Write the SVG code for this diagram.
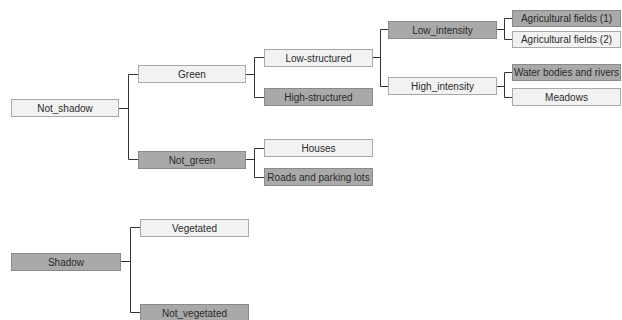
<svg xmlns="http://www.w3.org/2000/svg" width="622" height="320" viewBox="0 0 622 320">
<style>
.l rect{fill:#f2f2f2;stroke:#a8a8a8;stroke-width:1}
.d rect{fill:#a9a9a9;stroke:#8a8a8a;stroke-width:1}
text{font-family:"Liberation Sans",Arial,sans-serif;font-size:10px;fill:#2a2a2a;text-anchor:middle}
#connectors path{fill:none;stroke:#333;stroke-width:1}
</style>
<rect width="622" height="320" fill="#fff"/>
<g id="connectors">
<path d="M118.5,108.5H128.5M128.5,74.5V159.5M128.5,74.5H138M128.5,159.5H138"/>
<path d="M245,74.5H254.5M254.5,57.5V97.5M254.5,57.5H264M254.5,97.5H264"/>
<path d="M245,159.5H254.5M254.5,148.5V177.5M254.5,148.5H264M254.5,177.5H264"/>
<path d="M372,57.5H380.5M380.5,29.5V86.5M380.5,29.5H388M380.5,86.5H388"/>
<path d="M496,29.5H504.5M504.5,18.5V39.5M504.5,18.5H512M504.5,39.5H512"/>
<path d="M496,86.5H504.5M504.5,72.5V97.5M504.5,72.5H512M504.5,97.5H512"/>
<path d="M120.5,261.5H130.5M130.5,227.5V312.5M130.5,227.5H140M130.5,312.5H140"/>
</g>
<g id="not_shadow" class="l"><rect x="11.5" y="99.5" width="107" height="17"/><text x="65" y="111.5">Not_shadow</text></g>
<g id="green" class="l"><rect x="138.5" y="65.5" width="107" height="17"/><text x="192" y="77.5">Green</text></g>
<g id="not_green" class="d"><rect x="138.5" y="151.5" width="107" height="17"/><text x="192" y="163.5">Not_green</text></g>
<g id="low_structured" class="l"><rect x="264.5" y="49.5" width="108" height="17"/><text x="318.5" y="61.5">Low-structured</text></g>
<g id="high_structured" class="d"><rect x="264.5" y="88.5" width="108" height="17"/><text x="318.5" y="100.5">High-structured</text></g>
<g id="houses" class="l"><rect x="264.5" y="139.5" width="108" height="17"/><text x="318.5" y="151.5">Houses</text></g>
<g id="roads" class="d"><rect x="264.5" y="168.5" width="108" height="17"/><text x="318.5" y="180.5">Roads and parking lots</text></g>
<g id="low_intensity" class="d"><rect x="388.5" y="21.5" width="108" height="17"/><text x="442.5" y="33.5">Low_intensity</text></g>
<g id="high_intensity" class="l"><rect x="388.5" y="77.5" width="108" height="17"/><text x="442.5" y="89.5">High_intensity</text></g>
<g id="agri1" class="d"><rect x="512.5" y="10.5" width="108" height="16"/><text x="566.5" y="22">Agricultural fields (1)</text></g>
<g id="agri2" class="l"><rect x="512.5" y="31.5" width="108" height="16"/><text x="566.5" y="43">Agricultural fields (2)</text></g>
<g id="water" class="d"><rect x="512.5" y="64.5" width="108" height="16"/><text x="566.5" y="76">Water bodies and rivers</text></g>
<g id="meadows" class="l"><rect x="512.5" y="88.5" width="108" height="17"/><text x="566.5" y="100.5">Meadows</text></g>
<g id="shadow" class="d"><rect x="11.5" y="253.5" width="109" height="17"/><text x="66" y="265.5">Shadow</text></g>
<g id="vegetated" class="l"><rect x="140.5" y="219.5" width="108" height="17"/><text x="194.5" y="231.5">Vegetated</text></g>
<g id="not_vegetated" class="d"><rect x="140.5" y="304.5" width="108" height="17"/><text x="194.5" y="316.5">Not_vegetated</text></g>
</svg>
